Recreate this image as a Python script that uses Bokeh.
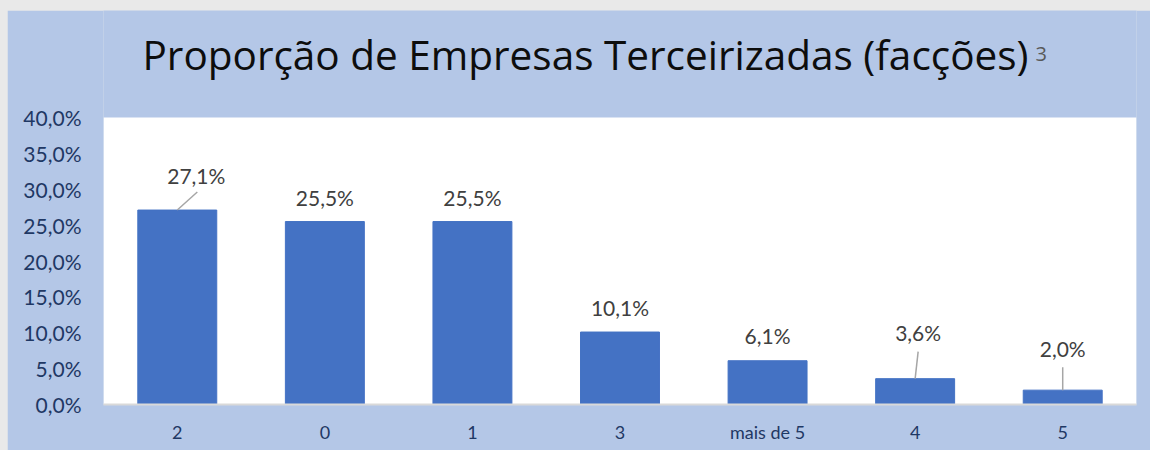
from bokeh.plotting import figure
from bokeh.models import ColumnDataSource, FactorRange, Range1d, FixedTicker, Label
from bokeh.core.properties import value
from bokeh.embed import file_html
from bokeh.resources import INLINE

# ---- data ----
categories = ["2", "0", "1", "3", "mais de 5", "4", "5"]
proportions = [27.1, 25.5, 25.5, 10.1, 6.1, 3.6, 2.0]
value_labels = ["27,1%", "25,5%", "25,5%", "10,1%", "6,1%", "3,6%", "2,0%"]
y_ticks = [0, 5, 10, 15, 20, 25, 30, 35, 40]
y_tick_labels = ["0,0%", "5,0%", "10,0%", "15,0%", "20,0%", "25,0%", "30,0%", "35,0%", "40,0%"]
title_text = "Proporção de Empresas Terceirizadas (facções)"
title_note = "3"

# ---- layout constants ----
W, H = 1143, 440
BL, BR, BT, BB = 96, 14, 0, 46
FRAME_W = W - BL - BR
FRAME_H = H - BT - BB          # frame also covers the title band
PLOT_H = 287                   # height of the white plot area (0..40%)
Y_MAX = 40
Y_TOP = Y_MAX * FRAME_H / PLOT_H
px_per_cat = FRAME_W / len(categories)
px_per_unit = PLOT_H / Y_MAX

# label offsets (pixels, relative to bar-top centre) and leader lines
label_dx = [19, 0, 0, 0, 0, 3, 0]
label_dy = [-35, -24, -24, -25, -25, -46, -42]
leader_dx = [20, None, None, None, None, 3, 0]
leader_dy = [18, None, None, None, None, 27, 23]

FONT = "Lato"
TITLE_FONT = "Open Sans"
NAVY = "#1F3864"
BLUE_BG = "#B4C7E7"

p = figure(width=W, height=H, x_range=FactorRange(*categories),
           y_range=Range1d(0, Y_TOP), output_backend="svg", toolbar_location=None,
           min_border_left=BL, min_border_right=BR, min_border_top=BT, min_border_bottom=BB)
p.border_fill_color = BLUE_BG
p.background_fill_color = BLUE_BG
p.outline_line_color = None
p.xgrid.grid_line_color = None
p.ygrid.grid_line_color = None

# white plot area (0 .. 40 %)
p.quad(left=[0], right=[len(categories)], bottom=[0], top=[Y_MAX],
       fill_color="#FFFFFF", line_color=None, level="underlay")

src = ColumnDataSource(dict(cat=categories, val=proportions, lab=value_labels,
                            dx=label_dx, dy=label_dy))
p.vbar(x="cat", top="val", width=0.535, source=src, fill_color="#4472C4",
       line_color="#4472C4")

# leader lines
lx0, ly0, lx1, ly1 = [], [], [], []
for i, v in enumerate(proportions):
    if leader_dx[i] is not None:
        lx0.append(i + 0.5)
        ly0.append(v)
        lx1.append(i + 0.5 + leader_dx[i] / px_per_cat)
        ly1.append(v + leader_dy[i] / px_per_unit)
p.segment(x0=lx0, y0=ly0, x1=lx1, y1=ly1, line_color="#A6A6A6", line_width=1.5)

p.text(x="cat", y="val", text="lab", x_offset="dx", y_offset="dy", source=src,
       text_font=value(FONT), text_font_size="21px", text_color="#404040",
       text_align="center", text_baseline="middle")

# axes
p.yaxis.ticker = FixedTicker(ticks=y_ticks)
p.yaxis.major_label_overrides = {t: l for t, l in zip(y_ticks, y_tick_labels)}
p.yaxis.axis_line_color = None
p.yaxis.major_tick_line_color = None
p.yaxis.minor_tick_line_color = None
p.yaxis.major_tick_out = 0
p.yaxis.major_label_standoff = 22
p.yaxis.major_label_text_font = FONT
p.yaxis.major_label_text_font_size = "21px"
p.yaxis.major_label_text_color = NAVY

p.xaxis.axis_line_color = "#D9D9D9"
p.xaxis.axis_line_width = 2
p.xaxis.major_tick_line_color = None
p.xaxis.minor_tick_line_color = None
p.xaxis.major_tick_out = 0
p.xaxis.major_label_standoff = 16
p.xaxis.major_label_text_font = FONT
p.xaxis.major_label_text_font_size = "18px"
p.xaxis.major_label_text_color = NAVY

# title + superscript note (screen units are relative to the frame's bottom-left)
p.add_layout(Label(x=482, y=350, x_units="screen", y_units="screen", text=title_text,
                   text_font=TITLE_FONT, text_font_size="40.5px", text_color="#0D0D0D",
                   text_align="center", text_baseline="alphabetic"))
p.add_layout(Label(x=932, y=351, x_units="screen", y_units="screen", text=title_note,
                   text_font=TITLE_FONT, text_font_size="20px", text_color="#595959",
                   text_align="left", text_baseline="middle"))

html = file_html(p, INLINE)
html = html.replace("</head>",
                    "<style>html,body{margin:0;padding:0;background:#E9E9E9;}"
                    "body{padding:10px 0 0 7px;}</style></head>", 1)
open("out.html", "w").write(html)
